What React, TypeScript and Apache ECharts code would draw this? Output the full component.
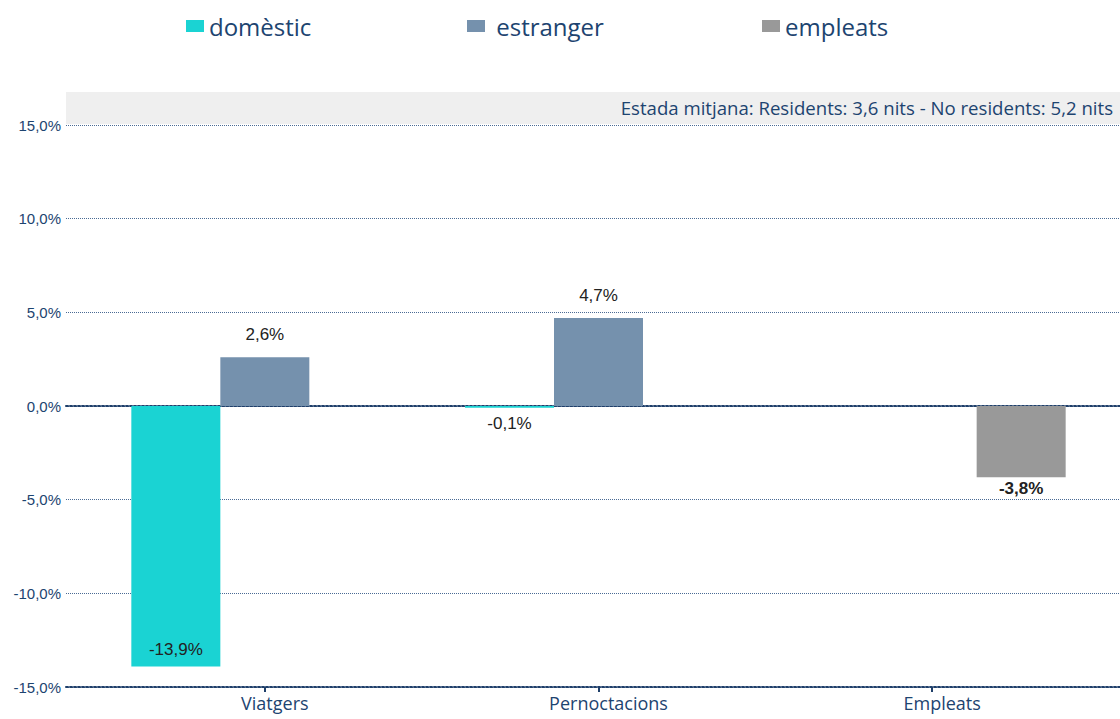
import React, { useEffect, useRef } from "react";
import * as echarts from "echarts";

const categories = ["Viatgers", "Pernoctacions", "Empleats"];
const domesticValues = [-13.9, -0.1, null];
const foreignValues = [2.6, 4.7, null];
const employeeValues = [null, null, -3.8];
const domesticLabelPos = ["insideBottom", "bottom", "bottom"];
const foreignLabelPos = ["top", "top", "top"];
const employeeLabelPos = ["bottom", "bottom", "bottom"];
const yMin = -15;
const yMax = 15;
const yInterval = 5;
const bannerText = "Estada mitjana: Residents: 3,6 nits - No residents: 5,2 nits";

const fmt = (v: number) => v.toFixed(1).replace(".", ",") + "%";
const blue = "#1d4470";

function buildData(values: (number | null)[], pos: string[], bold = false) {
  return values.map((v, i) => {
    if (v === null) return null;
    const p = pos[i];
    let distance = 14;
    if (p === "insideBottom") distance = 8;
    else if (p === "bottom") distance = bold ? 3 : 7;
    return {
      value: v,
      label: {
        show: true,
        position: p,
        distance,
        formatter: () => fmt(v),
        fontFamily: "Liberation Sans, Arial, sans-serif",
        fontSize: 17,
        fontWeight: bold ? "bold" : "normal",
        color: "#222222",
      },
    };
  });
}

export default function App() {
  const ref = useRef<HTMLDivElement>(null);
  useEffect(() => {
    if (!ref.current) return;
    const chart = echarts.init(ref.current, undefined, { renderer: "svg" });
    const gridTop = 125;
    const gridBottom = 32;
    const legendText = {
      fontFamily: "Open Sans, sans-serif",
      fontSize: 24,
      color: blue,
    };
    const legendBase = {
      top: 9,
      itemWidth: 18,
      itemHeight: 12,
      icon: "rect",
      textStyle: legendText,
      selectedMode: false,
    };
    const dotted = { color: "#1f3f6a", width: 2, type: [2, 2] };
    chart.setOption({
      animation: false,
      backgroundColor: "#ffffff",
      graphic: [
        {
          type: "rect",
          shape: { x: 66, y: 92, width: 1054, height: 32 },
          style: { fill: "#efefef" },
          silent: true,
          z: -10,
        },
        {
          type: "text",
          x: 1113,
          y: 107,
          style: {
            text: bannerText,
            align: "right",
            verticalAlign: "middle",
            fontFamily: "Open Sans, sans-serif",
            fontSize: 18.6,
            fill: blue,
          },
        },
      ],
      legend: [
        { ...legendBase, data: ["domèstic"], left: 181 },
        { ...legendBase, data: ["estranger"], left: 462, formatter: " {name}" },
        { ...legendBase, data: ["empleats"], left: 757 },
      ],
      grid: [
        { left: 66, right: 0, top: gridTop, bottom: gridBottom, containLabel: false },
        { left: 98, right: 21, top: gridTop, bottom: gridBottom, containLabel: false },
      ],
      xAxis: [
        {
          gridIndex: 0,
          type: "category",
          data: [""],
          axisLine: { show: true, onZero: true, lineStyle: dotted },
          axisTick: { show: false },
          axisLabel: { show: false },
          splitLine: { show: false },
          z: 1,
        },
        {
          gridIndex: 0,
          type: "category",
          data: [""],
          position: "bottom",
          axisLine: { show: true, onZero: false, lineStyle: dotted },
          axisTick: { show: false },
          axisLabel: { show: false },
          splitLine: { show: false },
        },
        {
          gridIndex: 1,
          type: "category",
          data: categories,
          position: "bottom",
          axisLine: { show: false, onZero: false },
          axisTick: { show: true, alignWithLabel: true, length: 5, lineStyle: { color: "#1f3f6a", width: 2 } },
          axisLabel: {
            fontFamily: "Open Sans, sans-serif",
            fontSize: 18,
            color: blue,
            margin: 7,
            padding: [0, 0, 0, 20],
          },
        },
      ],
      yAxis: [
        {
          gridIndex: 0,
          type: "value",
          min: yMin,
          max: yMax,
          interval: yInterval,
          axisLine: { show: false },
          axisTick: { show: false },
          axisLabel: {
            formatter: (v: number) => fmt(v),
            fontFamily: "Liberation Sans, Arial, sans-serif",
            fontSize: 15,
            color: blue,
            margin: 5,
          },
          splitLine: { show: true, lineStyle: { color: "#4a6a94", width: 1, type: [1, 1] } },
        },
        {
          gridIndex: 1,
          type: "value",
          min: yMin,
          max: yMax,
          interval: yInterval,
          show: false,
          splitLine: { show: false },
        },
      ],
      series: [
        {
          name: "domèstic",
          type: "bar",
          xAxisIndex: 2,
          yAxisIndex: 1,
          barWidth: 89,
          barGap: "0%",
          itemStyle: { color: "#1ad3d3" },
          data: buildData(domesticValues, domesticLabelPos),
          z: 3,
        },
        {
          name: "estranger",
          type: "bar",
          xAxisIndex: 2,
          yAxisIndex: 1,
          barWidth: 89,
          barGap: "0%",
          itemStyle: { color: "#7591ad" },
          data: buildData(foreignValues, foreignLabelPos),
          z: 3,
        },
        {
          name: "empleats",
          type: "bar",
          xAxisIndex: 2,
          yAxisIndex: 1,
          barWidth: 89,
          barGap: "0%",
          itemStyle: { color: "#999999" },
          data: buildData(employeeValues, employeeLabelPos, true),
          z: 3,
        },
      ],
    });
    return () => chart.dispose();
  }, []);
  return (
    <div
      ref={ref}
      style={{ position: "fixed", left: 0, top: 0, width: 1120, height: 719 }}
    />
  );
}
